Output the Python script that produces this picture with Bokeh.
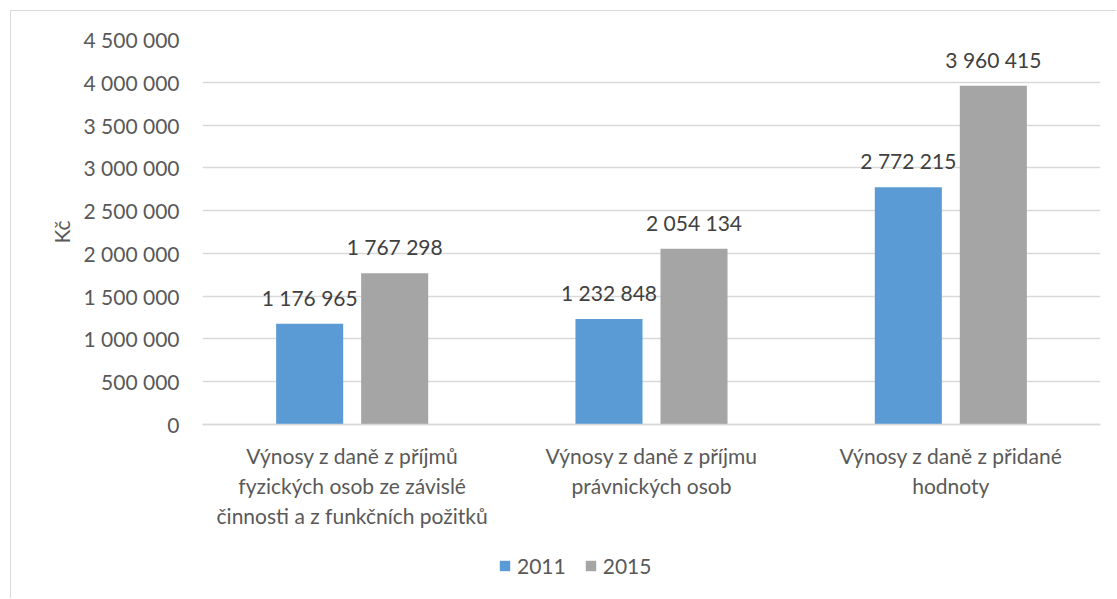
from bokeh.plotting import figure
from bokeh.models import (ColumnDataSource, FactorRange, Range1d, Legend, LegendItem,
                          CustomJSTickFormatter, FixedTicker, Title)
from bokeh.transform import dodge
from bokeh.core.properties import value
from bokeh.embed import file_html
from bokeh.resources import INLINE

categories = [
    "Výnosy z daně z příjmů\nfyzických osob ze závislé\nčinnosti a z funkčních požitků",
    "Výnosy z daně z příjmu\nprávnických osob",
    "Výnosy z daně z přidané\nhodnoty",
]
years = ["2011", "2015"]
values_2011 = [1176965, 1232848, 2772215]
values_2015 = [1767298, 2054134, 3960415]
y_ticks = [0, 500000, 1000000, 1500000, 2000000, 2500000, 3000000, 3500000, 4000000, 4500000]
y_axis_title = "Kč"

FONT = "Lato"
TXT = "#595959"
BLUE = "#5b9bd5"
GRAY = "#a5a5a5"

def fmt(v):
    return f"{v:,}".replace(",", " ")

src = ColumnDataSource(dict(
    cat=categories,
    v11=values_2011,
    v15=values_2015,
    l11=[fmt(v) for v in values_2011],
    l15=[fmt(v) for v in values_2015],
))

# frame spans value area (385 px) plus 166 px below zero for axis labels and legend
Y_MAX = y_ticks[-1]
Y_MIN = -Y_MAX * 166 / 385

p = figure(width=1106, height=588, output_backend="svg", toolbar_location=None,
           x_range=FactorRange(factors=categories, range_padding=0),
           y_range=Range1d(Y_MIN, Y_MAX),
           min_border_left=191, min_border_right=17, min_border_top=28, min_border_bottom=9)
p.margin = (10, 0, 0, 10)
p.styles = {"border-left": "1px solid #d9d9d9", "border-top": "1px solid #d9d9d9"}
p.outline_line_color = None
p.background_fill_color = "white"
p.border_fill_color = "white"

bw = 0.224
off = 0.142
r1 = p.vbar(x=dodge("cat", -off, range=p.x_range), top="v11", width=bw, source=src,
            fill_color=BLUE, line_color=None)
r2 = p.vbar(x=dodge("cat", off, range=p.x_range), top="v15", width=bw, source=src,
            fill_color=GRAY, line_color=None)

for col, lab, o in (("v11", "l11", -off), ("v15", "l15", off)):
    p.text(x=dodge("cat", o, range=p.x_range), y=col, text=lab, source=src,
           text_align="center", text_baseline="bottom", y_offset=-14,
           text_font=value(FONT), text_font_size="21px", text_color="#404040")

# y axis
p.yaxis.ticker = FixedTicker(ticks=y_ticks)
p.yaxis.formatter = CustomJSTickFormatter(code="""
    return Math.round(tick).toString().replace(/\\B(?=(\\d{3})+(?!\\d))/g, ' ');
""")
p.yaxis.axis_line_color = None
p.yaxis.major_tick_line_color = None
p.yaxis.minor_tick_line_color = None
p.yaxis.major_label_text_font = FONT
p.yaxis.major_label_text_font_size = "21px"
p.yaxis.major_label_text_color = TXT
p.yaxis.major_label_standoff = 17

ytitle = Title(text=y_axis_title, align="left", offset=347, standoff=13,
               text_font=FONT, text_font_size="21px", text_font_style="normal",
               text_color=TXT)
p.add_layout(ytitle, "left")

# x axis drawn at value 0
p.xaxis.fixed_location = 0
p.xaxis.axis_line_color = "#d9d9d9"
p.xaxis.axis_line_width = 1.5
p.xaxis.major_tick_line_color = None
p.xaxis.minor_tick_line_color = None
p.xaxis.major_label_text_font = FONT
p.xaxis.major_label_text_font_size = "21px"
p.xaxis.major_label_text_color = TXT
p.xaxis.major_label_standoff = 12
p.xaxis.major_label_orientation = "horizontal"

p.xgrid.grid_line_color = None
p.ygrid.grid_line_color = "#d9d9d9"
p.ygrid.grid_line_width = 1.5

legend = Legend(items=[LegendItem(label=years[0], renderers=[r1]),
                       LegendItem(label=years[1], renderers=[r2])],
                orientation="horizontal", location=(296, 12),
                glyph_width=13, glyph_height=13, label_standoff=6, spacing=18,
                padding=0, margin=0, border_line_color=None, background_fill_alpha=0,
                label_text_font=FONT, label_text_font_size="21px", label_text_color=TXT,
                label_height=21)
p.add_layout(legend, "center")

open("out.html", "w").write(file_html(p, INLINE))
